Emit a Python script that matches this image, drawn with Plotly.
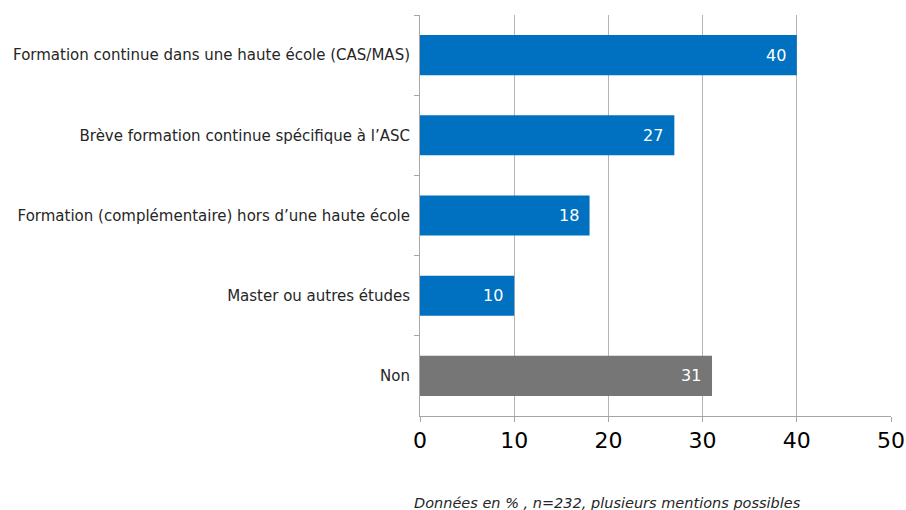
import plotly.graph_objects as go

categories = [
    "Formation continue dans une haute école (CAS/MAS)",
    "Brève formation continue spécifique à l’ASC",
    "Formation (complémentaire) hors d’une haute école",
    "Master ou autres études",
    "Non",
]
values = [40, 27, 18, 10, 31]
colors = ["#0070C0", "#0070C0", "#0070C0", "#0070C0", "#767676"]
x_ticks = [0, 10, 20, 30, 40, 50]
note = "Données en % , n=232, plusieurs mentions possibles"

W, H = 906, 510
ML, MT, MR, MB = 420, 15, 15, 94
plot_w = W - ML - MR
plot_h = H - MT - MB

fig = go.Figure()

fig.add_trace(go.Bar(
    y=categories,
    x=values,
    orientation='h',
    marker=dict(color=colors, line=dict(width=0)),
    width=0.5,
    hoverinfo='x+y',
))

# value labels inside the bar ends
annotations = [
    dict(
        x=v, y=c, xref='x', yref='y',
        text=str(v), showarrow=False,
        xanchor='right', yanchor='middle', xshift=-9,
        font=dict(color='white', size=16, family='DejaVu Sans'),
    )
    for c, v in zip(categories, values)
]
annotations.append(dict(
    text="<i>" + note + "</i>",
    xref='paper', yref='paper',
    x=187 / plot_w, y=-87 / plot_h,
    xanchor='center', yanchor='middle',
    showarrow=False,
    font=dict(size=14.5, color='#262626'),
))

fig.update_layout(
    width=W,
    height=H,
    plot_bgcolor='white',
    paper_bgcolor='white',
    font=dict(family='DejaVu Sans', size=15, color='#262626'),
    margin=dict(l=ML, r=MR, t=MT, b=MB),
    showlegend=False,
    xaxis=dict(
        range=[0, 50],
        tickvals=x_ticks,
        showgrid=True,
        gridcolor='#B4B4B4',
        gridwidth=1,
        zeroline=False,
        showline=True,
        linecolor='#A6A6A6',
        ticks='outside',
        ticklen=5,
        tickcolor='#A6A6A6',
        tickfont=dict(size=22, color='#000000'),
        automargin=False,
        fixedrange=True,
    ),
    yaxis=dict(
        autorange='reversed',
        categoryorder='array',
        categoryarray=categories,
        showline=True,
        linecolor='#A6A6A6',
        linewidth=1,
        ticks='outside',
        tickson='boundaries',
        ticklen=5,
        tickcolor='#A6A6A6',
        showgrid=False,
        tickfont=dict(size=15, color='#262626'),
        ticklabelstandoff=6,
        automargin=False,
        fixedrange=True,
    ),
    annotations=annotations,
)

# drop the default page margin so the figure fills the window exactly
fig.write_html(
    "out.html",
    config={'displayModeBar': False},
    post_script="document.body.style.margin='0';",
)
